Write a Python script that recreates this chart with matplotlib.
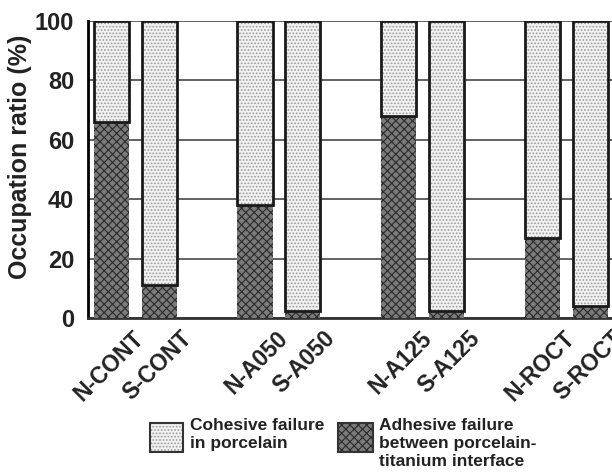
import numpy as np
import matplotlib.pyplot as plt
import matplotlib.transforms as mtransforms
from matplotlib.patches import Rectangle

plt.rcParams['font.family'] = ['Liberation Sans', 'DejaVu Sans']
plt.rcParams['font.weight'] = 'bold'
plt.rcParams['hatch.linewidth'] = 0.8

# data
labels = ['N-CONT', 'S-CONT', 'N-A050', 'S-A050',
          'N-A125', 'S-A125', 'N-ROCT', 'S-ROCT']
positions = [0, 1, 3, 4, 6, 7, 9, 10]
adhesive = [66, 11, 38, 2.5, 68, 2.5, 27, 4]
cohesive = [100 - a for a in adhesive]
legend_labels = ['Cohesive failure\nin porcelain',
                 'Adhesive failure\nbetween porcelain-\ntitanium interface']

coh_style = dict(facecolor='#f2f2f2', edgecolor='#9a9a9a', hatch='.....')
adh_style = dict(facecolor='#7a7a7a', edgecolor='#2a2a2a', hatch='xxxx')

fig = plt.figure(figsize=(6.12, 4.73), dpi=100)
ax = fig.add_axes([88 / 612, 155 / 473, 524 / 612, 297 / 473])

w = 0.73
# spodni cast (adhezni lom)
ax.bar(positions, adhesive, width=w, linewidth=0, zorder=3, **adh_style)
# horni cast (kohezni lom) + obrys
ax.bar(positions, cohesive, width=w, bottom=adhesive, linewidth=0,
       zorder=3, **coh_style)
ax.bar(positions, cohesive, width=w, bottom=adhesive, fill=False,
       edgecolor='#1a1a1a', linewidth=2, zorder=4)

ax.set_xlim(-0.48, 10.44)
ax.set_ylim(0, 100)
ax.set_yticks([0, 20, 40, 60, 80, 100])
ax.yaxis.grid(True, color='#555555', linewidth=1.3, zorder=0)
ax.set_axisbelow(True)
ax.tick_params(axis='y', length=0, pad=10, labelsize=17, labelcolor='#222222')
ax.tick_params(axis='x', length=0, pad=12, labelsize=16.5, labelcolor='#222222')
ax.set_ylabel('Occupation ratio (%)', fontsize=18, fontweight='bold',
              color='#222222')
ax.yaxis.set_label_coords(-0.107, 0.542)

ax.set_xticks(positions)
ax.set_xticklabels(labels, rotation=45, ha='right', va='center',
                   rotation_mode='anchor')
offset = mtransforms.ScaledTranslation(0.29, 0, fig.dpi_scale_trans)
for lab in ax.get_xticklabels():
    lab.set_transform(lab.get_transform() + offset)

for s in ['top', 'right']:
    ax.spines[s].set_visible(False)
ax.spines['left'].set_linewidth(2)
ax.spines['bottom'].set_linewidth(2)
ax.spines['bottom'].set_color('#333333')

# legenda pod grafem
for x0, x1, txt_x, style, txt in [(150, 183, 190, coh_style, legend_labels[0]),
                                  (338, 373, 379, adh_style, legend_labels[1])]:
    fig.patches.append(Rectangle((x0 / 612, 1 - 452 / 473), (x1 - x0) / 612,
                                 29 / 473, transform=fig.transFigure,
                                 linewidth=0, **style))
    fig.patches.append(Rectangle((x0 / 612, 1 - 452 / 473), (x1 - x0) / 612,
                                 29 / 473, transform=fig.transFigure,
                                 fill=False, edgecolor='#333333', linewidth=1.5))
    fig.text(txt_x / 612, 1 - 418 / 473, txt, fontsize=12.5, fontweight='bold',
             va='top', ha='left', linespacing=1.25, color='#222222')

fig.savefig('out.png', dpi=100)
